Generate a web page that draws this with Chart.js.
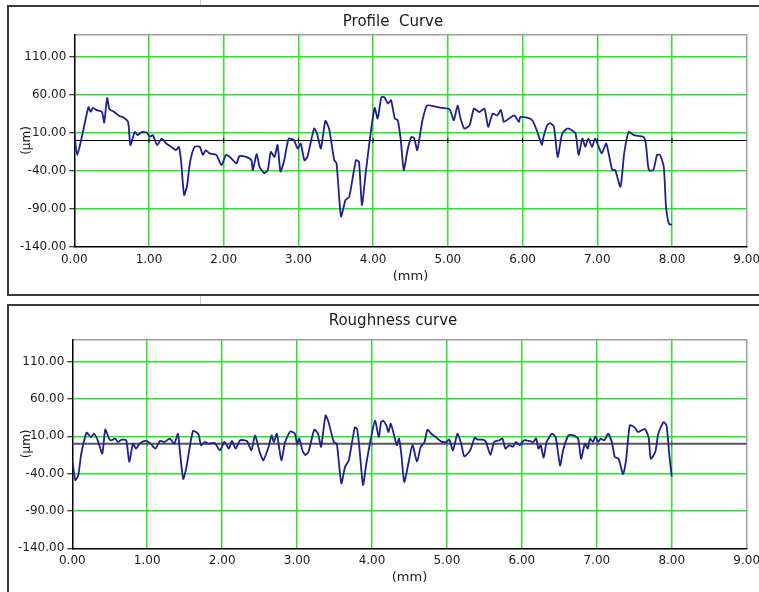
<!DOCTYPE html>
<html>
<head>
<meta charset="utf-8">
<title>Profile / Roughness</title>
<script src="https://cdn.jsdelivr.net/npm/chart.js@4/dist/chart.umd.min.js"></script>
<style>
  html, body { margin: 0; padding: 0; background: #fff; }
  body { position: relative; width: 759px; height: 592px; overflow: hidden; }
  .panel { position: absolute; box-sizing: border-box; border: 2px solid #3c3c3c; background: #fff; }
  #panel1 { left: 7px; top: 5px; width: 780px; height: 291px; }
  #panel2 { left: 7px; top: 304px; width: 780px; height: 300px; }
  .sep { position: absolute; width: 1px; background: #c8c8c8; }
  .wrap { position: absolute; left: 0; }
  #wrap1 { top: 0; width: 786px; height: 295px; }
  #wrap2 { top: 305px; width: 786px; height: 287px; }
</style>
</head>
<body>
<div class="sep" style="left:200px;top:0;height:5px"></div>
<div class="sep" style="left:200px;top:296px;height:8px"></div>
<div class="panel" id="panel1"></div>
<div class="panel" id="panel2"></div>
<div class="wrap" id="wrap1"><canvas id="profileChart" width="786" height="295"></canvas></div>
<div class="wrap" id="wrap2"><canvas id="roughChart" width="786" height="287"></canvas></div>
<script>
// Profile curve: position along the trace (mm) and height (µm)
const profileMm = [
  0.00, 0.04, 0.11, 0.19, 0.22, 0.25, 0.30, 0.37, 0.40, 0.44, 0.47, 0.52, 0.56, 0.61, 0.65, 0.72,
  0.75, 0.81, 0.85, 0.90, 0.97, 1.01, 1.05, 1.11, 1.17, 1.23, 1.30, 1.36, 1.40, 1.43, 1.47, 1.51,
  1.55, 1.61, 1.68, 1.72, 1.76, 1.81, 1.90, 1.97, 2.03, 2.08, 2.17, 2.21, 2.30, 2.37, 2.39, 2.44,
  2.48, 2.54, 2.59, 2.63, 2.68, 2.72, 2.76, 2.81, 2.87, 2.94, 2.99, 3.03, 3.08, 3.12, 3.21, 3.25,
  3.30, 3.36, 3.41, 3.48, 3.51, 3.57, 3.63, 3.68, 3.77, 3.81, 3.85, 3.90, 3.96, 4.02, 4.06, 4.11,
  4.15, 4.20, 4.24, 4.29, 4.33, 4.37, 4.41, 4.46, 4.51, 4.55, 4.59, 4.63, 4.66, 4.72, 4.82, 4.91,
  5.00, 5.03, 5.08, 5.13, 5.17, 5.22, 5.29, 5.35, 5.42, 5.49, 5.54, 5.60, 5.66, 5.71, 5.75, 5.82,
  5.89, 5.95, 5.97, 6.06, 6.13, 6.19, 6.22, 6.26, 6.28, 6.33, 6.37, 6.42, 6.47, 6.53, 6.60, 6.66,
  6.71, 6.75, 6.80, 6.84, 6.88, 6.93, 6.97, 7.02, 7.06, 7.12, 7.20, 7.24, 7.31, 7.36, 7.42, 7.49,
  7.62, 7.65, 7.69, 7.75, 7.80, 7.84, 7.89, 7.92, 7.96, 8.00
];
const profileUm = [
  9, -19, 9, 44, 37.6, 43, 40, 37.6, 23.7, 56, 41, 38.5, 35.5, 32, 31, 24.5,
  -6, 11.3, 7, 11, 10.5, 5, 7, -6, 2.6, -4, -8.4, -12.8, -8.4, -28, -72, -59,
  -28, -8.4, -8.4, -19, -13, -17, -19, -32.5, -19, -21.6, -30, -20.6, -21.6, -26, -39, -18,
  -34.7, -43, -39, -15, -21.6, -6, -41, -26, 2.6, 0.4, -10.5, -4, -26, -21.6, 15.8, 9,
  -10.5, 25.8, 15.8, -26, -30, -100, -78.5, -74, -26, -28, -85, -43, 4.7, 43, 29, 57,
  57, 48.7, 53, 29, 26.7, 0.4, -39, -12.8, 4.7, 2.6, -12.8, 9, 26.7, 46, 45, 43,
  42, 40, 26.7, 46, 29, 15.8, 20, 42, 37.6, 42, 18, 35.5, 33, 40, 24.5, 29,
  33, 24.5, 31, 30, 26.7, 13.5, 4.7, -6, 4.7, 20, 23, 18, -21.6, 9, 15.8, 13.5,
  9, -19, 2.6, -8.4, 2.6, -8.4, 2.6, -8.4, -17, -4, -39, -39, -61, -17, 11.3, 7,
  4.7, -4, -39, -39, -19, -19, -34.7, -87, -110, -111
];

// Roughness curve: position (mm) and height (µm)
const roughMm = [
  0.00, 0.04, 0.08, 0.12, 0.19, 0.22, 0.25, 0.29, 0.34, 0.40, 0.44, 0.49, 0.52, 0.57, 0.61, 0.66,
  0.72, 0.76, 0.81, 0.85, 0.90, 0.97, 1.03, 1.11, 1.17, 1.23, 1.30, 1.36, 1.41, 1.43, 1.48, 1.52,
  1.61, 1.68, 1.72, 1.77, 1.81, 1.90, 1.97, 2.03, 2.09, 2.13, 2.18, 2.24, 2.33, 2.39, 2.44, 2.50,
  2.55, 2.62, 2.66, 2.69, 2.73, 2.79, 2.84, 2.91, 2.97, 3.00, 3.03, 3.07, 3.11, 3.15, 3.18, 3.23,
  3.28, 3.32, 3.38, 3.42, 3.49, 3.53, 3.59, 3.64, 3.69, 3.77, 3.80, 3.83, 3.88, 3.92, 3.98, 4.04,
  4.09, 4.12, 4.15, 4.19, 4.22, 4.25, 4.30, 4.33, 4.36, 4.39, 4.43, 4.48, 4.54, 4.60, 4.65, 4.70,
  4.74, 4.79, 4.85, 4.92, 4.99, 5.03, 5.08, 5.14, 5.19, 5.23, 5.28, 5.32, 5.37, 5.41, 5.48, 5.52,
  5.58, 5.63, 5.70, 5.74, 5.78, 5.83, 5.88, 5.92, 5.97, 6.03, 6.10, 6.15, 6.19, 6.22, 6.25, 6.29,
  6.33, 6.40, 6.45, 6.51, 6.55, 6.62, 6.69, 6.75, 6.79, 6.84, 6.88, 6.91, 6.95, 6.98, 7.02, 7.05,
  7.10, 7.15, 7.20, 7.24, 7.29, 7.35, 7.39, 7.44, 7.50, 7.55, 7.64, 7.69, 7.72, 7.78, 7.82, 7.89,
  7.93, 7.97, 8.00
];
const roughUm = [
  -22, -48.7, -42, -13, 15, 12, 9, 13.5, 4.7, -13, 19, 7, 4.7, 7, 2.4, 5.6,
  4.7, -24, 0.2, -6.4, 0.2, 3.8, 1.6, -6.4, 3.8, 2.4, 7, 0.2, 13.5, -4, -47, -33,
  17, 13.5, -2, 2.4, 0.2, 1, -8.7, 2.4, -6.4, 3.8, -6.4, 4.7, 3.8, -8.7, 11.3, -11,
  -22, -4, 11.3, 2.4, 13.5, -22, 2.4, 16.7, 13.5, 0.2, 7, -8.7, -15, -11, 0.2, 19,
  13.5, -4, 38, 29, 2.4, 0.2, -53, -31, -22, 22, 20, -4, -55, -29, 4.7, 31,
  9, 29, 31, 24.7, 15.8, 27, 9, -2, 7, -13, -51, -29, -2, -24, -4, 2.4,
  19, 13.5, 9, 3.3, 2.4, 5.6, -8.7, 13.5, 0.2, -16.7, -13, -6.4, 8, 5.6, 5.6, 2.4,
  -15, 2.4, 4.7, 7, -6.4, -2, -4, 2.4, -2, 4.7, 3.8, 2.4, 7, -6.4, -2, -18.4,
  2.4, 13.5, 9, -29, -8.7, 11.3, 11.3, 7, -20, 0.2, -6.4, 7, 2.4, 10, 2.4, 7,
  4.7, 13.5, 2.4, -17.6, -20, -40.7, -22, 24.7, 22.4, 15.8, 20, 9, -20, -11, 13.5, 29,
  24.7, -17.6, -44
];

// Axis ticks shared by both panels
const yTickValues = [-140, -90, -40, 10, 60, 110];
const yRange = [-140, 140];
const xRange = [0, 9];
const xMarkers = [1, 2, 3, 4, 5, 6, 7, 8];

const GRID_GREEN = '#26e626';
const FRAME_GRAY = '#a0a0a0';
const TRACE_BLUE = '#1f1f8f';
const FONT = 'DejaVu Sans';

function toPoints(xs, ys) {
  return xs.map((x, i) => ({ x: x, y: ys[i] }));
}

function buildChart(canvasId, cfg) {
  return new Chart(document.getElementById(canvasId), {
    type: 'scatter',
    data: {
      datasets: [
        {
          data: toPoints(cfg.xs, cfg.ys),
          showLine: true,
          borderColor: TRACE_BLUE,
          borderWidth: 1.8,
          pointRadius: 0,
          tension: 0.2,
          order: 0
        },
        {
          data: toPoints(xRange, [0, 0]),
          showLine: true,
          borderColor: cfg.zeroColor,
          borderWidth: cfg.zeroWidth,
          pointRadius: 0,
          order: 2
        },
        {
          data: toPoints(xMarkers, xMarkers.map(() => 0)),
          showLine: false,
          pointStyle: 'line',
          rotation: 90,
          pointRadius: 2.5,
          borderColor: cfg.zeroColor,
          borderWidth: 1,
          order: 1
        }
      ]
    },
    options: {
      responsive: false,
      animation: false,
      events: [],
      layout: { padding: 0 },
      plugins: {
        legend: { display: false },
        tooltip: { enabled: false },
        title: {
          display: true,
          text: cfg.title,
          color: '#1a1a1a',
          font: { family: FONT, size: 15, weight: 'normal', lineHeight: 1.2 },
          padding: { top: cfg.titlePadTop, bottom: cfg.titlePadBottom }
        }
      },
      scales: {
        x: {
          type: 'linear',
          position: 'bottom',
          min: xRange[0],
          max: xRange[1],
          ticks: {
            stepSize: 1,
            padding: cfg.xTickPad,
            color: '#1a1a1a',
            font: { family: FONT, size: 12 },
            callback: v => Number(v).toFixed(2),
            maxRotation: 0
          },
          grid: {
            drawTicks: false,
            lineWidth: 1.5,
            color: c => c.tick.value === 0 ? 'rgba(0,0,0,0)' : (c.tick.value === 9 ? FRAME_GRAY : GRID_GREEN)
          },
          border: { color: '#000', width: 1.5 },
          title: {
            display: true,
            text: '(mm)',
            color: '#1a1a1a',
            font: { family: FONT, size: 13, lineHeight: 1.2 },
            padding: { top: 0, bottom: cfg.xTitlePadBottom }
          },
          afterFit: s => { s.height = cfg.xAxisHeight; }
        },
        xTop: {
          type: 'linear',
          position: 'top',
          min: xRange[0],
          max: xRange[1],
          ticks: { display: false },
          grid: { display: false, drawTicks: false },
          border: { color: FRAME_GRAY, width: 1.5 },
          afterFit: s => { s.height = 0; }
        },
        y: {
          type: 'linear',
          position: 'left',
          min: yRange[0],
          max: yRange[1],
          afterBuildTicks: s => { s.ticks = yTickValues.map(v => ({ value: v })); },
          ticks: {
            padding: 3,
            color: '#1a1a1a',
            font: { family: FONT, size: 12 },
            callback: v => Number(v).toFixed(2)
          },
          grid: {
            lineWidth: 1.5,
            tickLength: 5,
            tickColor: '#000',
            tickWidth: 1,
            color: c => c.tick.value === yRange[0] ? 'rgba(0,0,0,0)' : GRID_GREEN
          },
          border: { color: '#000', width: 1.5 },
          title: {
            display: true,
            text: '(µm)',
            color: '#1a1a1a',
            font: { family: FONT, size: 12, lineHeight: 1.2 },
            padding: { top: 20, bottom: 0 }
          },
          afterFit: s => { s.width = cfg.yAxisWidth; }
        },
        yRight: {
          type: 'linear',
          position: 'right',
          min: yRange[0],
          max: yRange[1],
          ticks: { display: false },
          grid: { display: false, drawTicks: false },
          border: { display: false },
          afterFit: s => { s.width = 39.3; }
        }
      }
    }
  });
}

buildChart('profileChart', {
  xs: profileMm, ys: profileUm,
  title: 'Profile  Curve',
  titlePadTop: 13, titlePadBottom: 3.3,
  xAxisHeight: 48.3, xTickPad: 6.1, xTitlePadBottom: 10.2,
  yAxisWidth: 74.3,
  zeroColor: '#000', zeroWidth: 1
});

buildChart('roughChart', {
  xs: roughMm, ys: roughUm,
  title: 'Roughness curve',
  titlePadTop: 7, titlePadBottom: 9.3,
  xAxisHeight: 43.7, xTickPad: 5.5, xTitlePadBottom: 6.2,
  yAxisWidth: 72.3,
  zeroColor: '#555', zeroWidth: 2
});
</script>
</body>
</html>
